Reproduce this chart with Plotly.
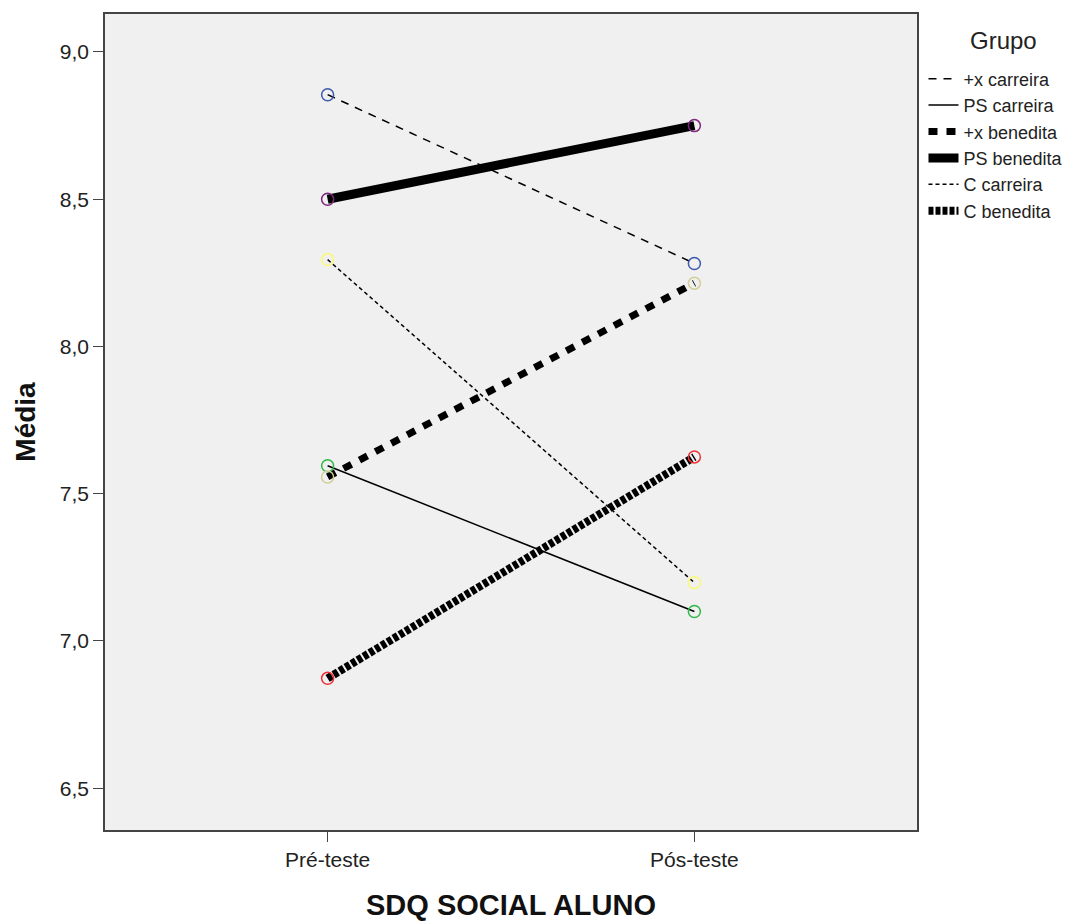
import plotly.graph_objects as go

categories = ["Pré-teste", "Pós-teste"]
groups = ["+x carreira", "PS carreira", "+x benedita", "PS benedita", "C carreira", "C benedita"]
plus_x_carreira = [8.855, 8.282]
ps_carreira = [7.595, 7.10]
plus_x_benedita = [7.557, 8.215]
ps_benedita = [8.50, 8.75]
c_carreira = [8.295, 7.198]
c_benedita = [6.873, 7.625]
series = [plus_x_carreira, ps_carreira, plus_x_benedita, ps_benedita, c_carreira, c_benedita]
y_ticks = [6.5, 7.0, 7.5, 8.0, 8.5, 9.0]
legend_title = "Grupo"

marker_colors = ["#3E58AC", "#2EB848", "#D3CE97", "#7C287D", "#FBF873", "#EF3338"]
line_widths = [1.5, 1.5, 7, 9, 1.5, 8]
line_dashes = ["8px,7px", "solid", "9px,9px", "solid", "4px,3px", "5px,2px"]

fig = go.Figure()
for name, vals, w, d in zip(groups, series, line_widths, line_dashes):
    fig.add_trace(go.Scatter(x=categories, y=vals, mode="lines", name=name,
                             line=dict(color="black", width=w, dash=d)))
for name, vals, c in zip(groups, series, marker_colors):
    fig.add_trace(go.Scatter(x=categories, y=vals, mode="markers", showlegend=False,
                             marker=dict(symbol="circle-open", size=12, color=c,
                                         line=dict(width=1.5, color=c))))

font = "Liberation Sans, Arial, sans-serif"
fig.add_annotation(text=legend_title, xref="paper", yref="paper", x=1.106, y=0.968,
                   xanchor="center", yanchor="middle", showarrow=False,
                   font=dict(size=24, color="#222"))
fig.update_layout(
    width=1085, height=921,
    margin=dict(l=97, r=176, t=4, b=99),
    paper_bgcolor="white", plot_bgcolor="#F0F0F0",
    separators=",.",
    font=dict(family=font, size=21, color="#222"),
    showlegend=True,
    legend=dict(x=1.008, xanchor="left", y=0.943, yanchor="top",
                bgcolor="rgba(0,0,0,0)", font=dict(size=18, color="#222"),
                itemwidth=30, tracegroupgap=0),
    xaxis=dict(type="category", range=[-0.607, 1.607], showgrid=False, zeroline=False,
               showline=True, mirror=True, linecolor="#444", linewidth=1.5,
               ticks="outside", ticklen=10, tickcolor="#444",
               tickfont=dict(size=21, color="#222"),
               title=dict(text="<b>SDQ SOCIAL ALUNO</b>", font=dict(size=29, color="#111"), standoff=25)),
    yaxis=dict(range=[6.358, 9.129], tickvals=y_ticks, tickformat=".1f", showgrid=False,
               zeroline=False, showline=True, mirror=True, linecolor="#444", linewidth=1.5,
               ticks="outside", ticklen=10, tickcolor="#444",
               tickfont=dict(size=21, color="#222"),
               title=dict(text="<b>Média</b>", font=dict(size=28, color="#111"), standoff=16)),
)
fig.write_html("out.html")
